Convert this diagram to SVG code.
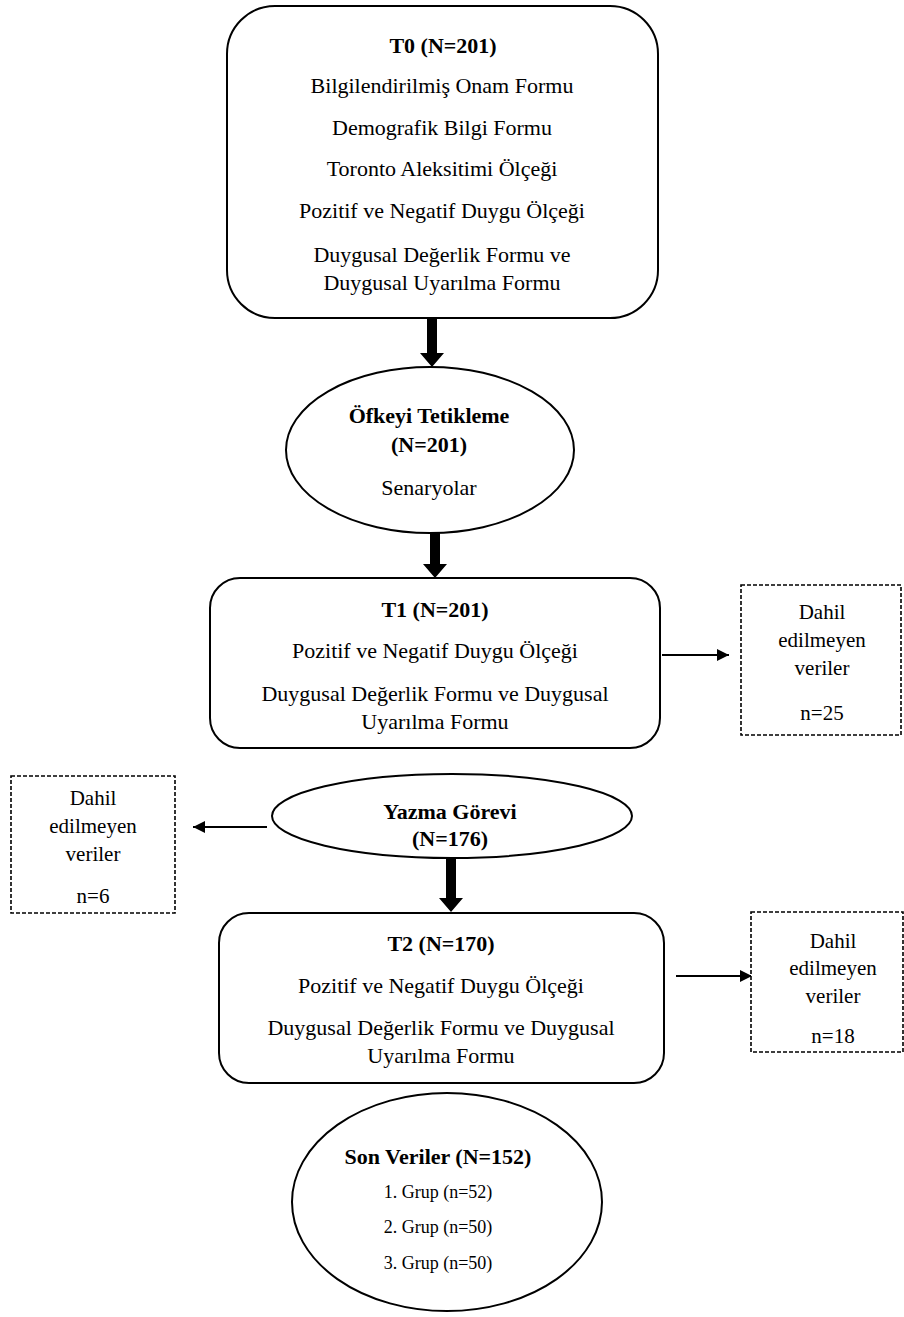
<svg xmlns="http://www.w3.org/2000/svg" width="904" height="1317" viewBox="0 0 904 1317">
<style>
text{font-family:"Liberation Serif","Times New Roman",serif;fill:#000;text-anchor:middle;}
.b{font-weight:bold;font-size:22px;}
.t{font-size:22px;}
.s{font-size:21px;}
.g{font-size:18px;}
.box{fill:#fff;stroke:#000;stroke-width:2;}
.dash{fill:#fff;stroke:#000;stroke-width:1.6;stroke-dasharray:4 2;}
.ln{stroke:#000;stroke-width:2;fill:none;}
</style>
<defs>
<marker id="ah" viewBox="0 0 10 10" refX="10" refY="5" markerWidth="7" markerHeight="7" markerUnits="userSpaceOnUse" orient="auto">
<path d="M0,0 L10,5 L0,10 z" fill="#000"/>
</marker>
<marker id="ah2" viewBox="0 0 10 10" refX="10" refY="5" markerWidth="14" markerHeight="12" markerUnits="userSpaceOnUse" orient="auto">
<path d="M0,0 L10,5 L0,10 z" fill="#000"/>
</marker>
</defs>

<g id="connectors">
<path d="M427,318 H437 V353 H444 L432,367 L420,353 H427 Z" fill="#000"/>
<path d="M430,533 H440 V564 H447 L435,578 L423,564 H430 Z" fill="#000"/>
<path d="M446,857 H456 V898 H463 L451,912 L439,898 H446 Z" fill="#000"/>
<line class="ln" x1="662" y1="655" x2="729" y2="655" marker-end="url(#ah2)"/>
<line class="ln" x1="267" y1="827" x2="193" y2="827" marker-end="url(#ah2)"/>
<line class="ln" x1="676" y1="976" x2="752" y2="976" marker-end="url(#ah2)"/>
</g>

<g id="t0">
<rect class="box" x="227" y="6" width="431" height="312" rx="48" ry="48"/>
<text class="b" x="443" y="53">T0 (N=201)</text>
<text class="t" x="442" y="93">Bilgilendirilmiş Onam Formu</text>
<text class="t" x="442" y="135">Demografik Bilgi Formu</text>
<text class="t" x="442" y="176">Toronto Aleksitimi Ölçeği</text>
<text class="t" x="442" y="218">Pozitif ve Negatif Duygu Ölçeği</text>
<text class="t" x="442" y="262">Duygusal Değerlik Formu ve</text>
<text class="t" x="442" y="290">Duygusal Uyarılma Formu</text>
</g>

<g id="ofke">
<ellipse class="box" cx="430" cy="450" rx="144" ry="83"/>
<text class="b" x="429" y="423">Öfkeyi Tetikleme</text>
<text class="b" x="429" y="452">(N=201)</text>
<text class="t" x="429" y="495">Senaryolar</text>
</g>

<g id="t1">
<rect class="box" x="210" y="578" width="450" height="170" rx="30" ry="30"/>
<text class="b" x="435" y="617">T1 (N=201)</text>
<text class="t" x="435" y="658">Pozitif ve Negatif Duygu Ölçeği</text>
<text class="t" x="435" y="701">Duygusal Değerlik Formu ve Duygusal</text>
<text class="t" x="435" y="729">Uyarılma Formu</text>
</g>

<g id="excl1">
<rect class="dash" x="741" y="585" width="160" height="150"/>
<text class="s" x="822" y="619">Dahil</text>
<text class="s" x="822" y="647">edilmeyen</text>
<text class="s" x="822" y="675">veriler</text>
<text class="s" x="822" y="720">n=25</text>
</g>

<g id="yazma">
<ellipse class="box" cx="452" cy="816" rx="180" ry="42"/>
<text class="b" x="450" y="819">Yazma Görevi</text>
<text class="b" x="450" y="846">(N=176)</text>
</g>

<g id="excl2">
<rect class="dash" x="11" y="776" width="164" height="137"/>
<text class="s" x="93" y="805">Dahil</text>
<text class="s" x="93" y="833">edilmeyen</text>
<text class="s" x="93" y="861">veriler</text>
<text class="s" x="93" y="903">n=6</text>
</g>

<g id="t2">
<rect class="box" x="219" y="913" width="445" height="170" rx="30" ry="30"/>
<text class="b" x="441" y="951">T2 (N=170)</text>
<text class="t" x="441" y="993">Pozitif ve Negatif Duygu Ölçeği</text>
<text class="t" x="441" y="1035">Duygusal Değerlik Formu ve Duygusal</text>
<text class="t" x="441" y="1063">Uyarılma Formu</text>
</g>

<g id="excl3">
<rect class="dash" x="751" y="912" width="152" height="140"/>
<text class="s" x="833" y="948">Dahil</text>
<text class="s" x="833" y="975">edilmeyen</text>
<text class="s" x="833" y="1003">veriler</text>
<text class="s" x="833" y="1043">n=18</text>
</g>

<g id="son">
<ellipse class="box" cx="447" cy="1202" rx="155" ry="109"/>
<text class="b" x="438" y="1164">Son Veriler (N=152)</text>
<text class="g" x="438" y="1198">1. Grup (n=52)</text>
<text class="g" x="438" y="1233">2. Grup (n=50)</text>
<text class="g" x="438" y="1269">3. Grup (n=50)</text>
</g>
</svg>
